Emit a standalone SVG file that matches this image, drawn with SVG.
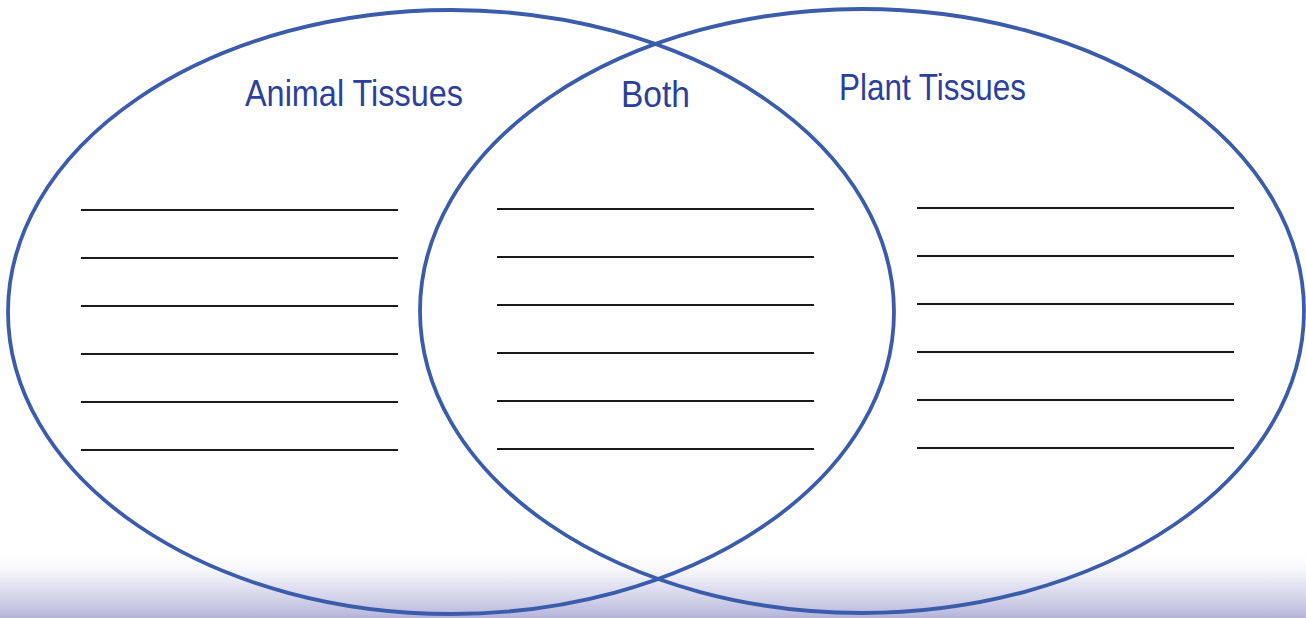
<svg xmlns="http://www.w3.org/2000/svg" width="1306" height="618" viewBox="0 0 1306 618">
  <defs>
    <linearGradient id="bottomShade" x1="0" y1="0" x2="0" y2="1">
      <stop offset="0" stop-color="#ffffff" stop-opacity="0"/>
      <stop offset="0.5" stop-color="#d8d8ee" stop-opacity="0.7"/>
      <stop offset="1" stop-color="#b4b4da" stop-opacity="1"/>
    </linearGradient>
    <style>
      .ring { fill: none; stroke: #3b5cab; stroke-width: 3.8; }
      .rule { stroke: #1a1a1a; stroke-width: 1.8; }
      .label { font-family: "Liberation Sans", "Open Sans", sans-serif; font-size: 36px; fill: #2b3f9e; }
    </style>
  </defs>
  <rect x="0" y="0" width="1306" height="618" fill="#ffffff"/>
  <rect x="0" y="550" width="1306" height="68" fill="url(#bottomShade)"/>

  <g id="animal-tissues">
    <ellipse class="ring" cx="451" cy="312" rx="443" ry="302"/>
    <text class="label" x="245" y="106" textLength="218" lengthAdjust="spacingAndGlyphs">Animal Tissues</text>
    <g id="animal-lines">
      <line class="rule" x1="81" y1="210" x2="398" y2="210"/>
      <line class="rule" x1="81" y1="258" x2="398" y2="258"/>
      <line class="rule" x1="81" y1="306" x2="398" y2="306"/>
      <line class="rule" x1="81" y1="354" x2="398" y2="354"/>
      <line class="rule" x1="81" y1="402" x2="398" y2="402"/>
      <line class="rule" x1="81" y1="450" x2="398" y2="450"/>
    </g>
  </g>

  <g id="plant-tissues">
    <ellipse class="ring" cx="862" cy="311" rx="442" ry="302"/>
    <text class="label" x="839" y="100" textLength="187" lengthAdjust="spacingAndGlyphs">Plant Tissues</text>
    <g id="plant-lines">
      <line class="rule" x1="917" y1="208" x2="1234" y2="208"/>
      <line class="rule" x1="917" y1="256" x2="1234" y2="256"/>
      <line class="rule" x1="917" y1="304" x2="1234" y2="304"/>
      <line class="rule" x1="917" y1="352" x2="1234" y2="352"/>
      <line class="rule" x1="917" y1="400" x2="1234" y2="400"/>
      <line class="rule" x1="917" y1="448" x2="1234" y2="448"/>
    </g>
  </g>

  <g id="both">
    <text class="label" x="621" y="107" textLength="69" lengthAdjust="spacingAndGlyphs">Both</text>
    <g id="both-lines">
      <line class="rule" x1="497" y1="209" x2="814" y2="209"/>
      <line class="rule" x1="497" y1="257" x2="814" y2="257"/>
      <line class="rule" x1="497" y1="305" x2="814" y2="305"/>
      <line class="rule" x1="497" y1="353" x2="814" y2="353"/>
      <line class="rule" x1="497" y1="401" x2="814" y2="401"/>
      <line class="rule" x1="497" y1="449" x2="814" y2="449"/>
    </g>
  </g>

  <g id="connectors"></g>
</svg>
